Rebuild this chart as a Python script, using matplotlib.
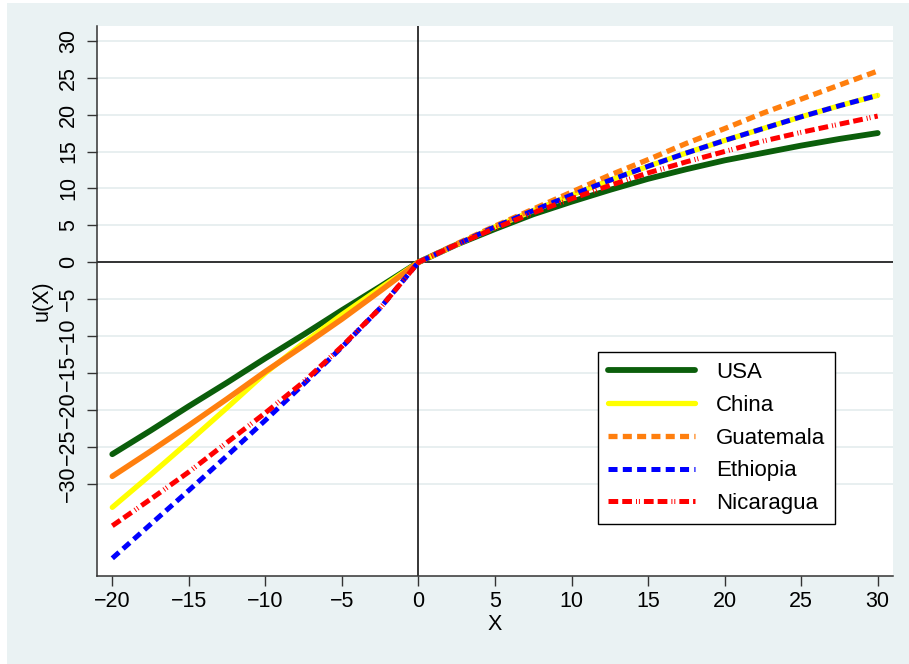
import matplotlib
matplotlib.use("Agg")
import matplotlib.pyplot as plt
from matplotlib.patches import Rectangle

plt.rcParams['font.family'] = ['Liberation Sans', 'DejaVu Sans']
plt.rcParams['lines.scale_dashes'] = False

BG = '#EAF2F3'
GRID = '#E4ECEE'

# values
X = [-20, -17.5, -15, -12.5, -10, -7.5, -5, -2.5, 0,
     2.5, 5, 7.5, 10, 12.5, 15, 17.5, 20, 22.5, 25, 27.5, 30]

USA = [-26.0, -22.8, -19.5, -16.3, -13.0, -9.8, -6.5, -3.3, 0,
       2.4, 4.5, 6.5, 8.2, 9.8, 11.3, 12.6, 13.8, 14.8, 15.8, 16.7, 17.5]
CHINA = [-33.2, -28.8, -24.3, -19.7, -15.0, -10.9, -7.1, -3.5, 0,
         2.4, 4.8, 7.0, 9.1, 11.1, 13.0, 14.8, 16.5, 18.1, 19.7, 21.2, 22.6]
GUATEMALA = [-29.0, -25.6, -22.1, -18.5, -14.8, -11.3, -7.7, -3.9, 0,
             2.5, 4.9, 7.2, 9.5, 11.8, 13.9, 16.1, 18.1, 20.2, 22.1, 24.0, 25.9]
ETHIOPIA = [-40.1, -35.5, -30.9, -26.2, -21.4, -16.5, -11.5, -6.2, 0,
            2.4, 4.8, 7.0, 9.1, 11.1, 13.0, 14.8, 16.5, 18.1, 19.7, 21.2, 22.6]
NICARAGUA = [-35.7, -32.1, -28.4, -24.4, -20.4, -16.2, -11.4, -6.2, 0,
             2.4, 4.6, 6.7, 8.6, 10.4, 12.1, 13.6, 15.0, 16.4, 17.6, 18.7, 19.8]

X_TICKS = [-20, -15, -10, -5, 0, 5, 10, 15, 20, 25, 30]
Y_TICKS = [-30, -25, -20, -15, -10, -5, 0, 5, 10, 15, 20, 25, 30]

ZERO = X.index(0)


def main():
    fig = plt.figure(figsize=(9.09, 6.64), dpi=100, facecolor='white')
    fig.patches.append(Rectangle((7 / 909, 0), 1, 661 / 664, transform=fig.transFigure,
                                 facecolor=BG, edgecolor='none', zorder=-10))
    ax = fig.add_axes([97 / 909, 1 - 576 / 664, 796 / 909, 550 / 664])
    ax.set_facecolor('white')

    ax.set_xlim(-21, 31)
    ax.set_ylim(-42.5, 32)
    ax.set_yticks(Y_TICKS)
    ax.set_xticks(X_TICKS)
    ax.grid(axis='y', color=GRID, linewidth=1.2, zorder=0)
    ax.set_axisbelow(True)

    for side in ('top', 'right'):
        ax.spines[side].set_visible(False)
    for side in ('left', 'bottom'):
        ax.spines[side].set_color('#333333')
        ax.spines[side].set_linewidth(1.1)

    ax.tick_params(axis='both', direction='out', length=7, width=1.0, color='#333333',
                   labelsize=15.5, labelcolor='black')
    ax.tick_params(axis='x', pad=4)
    ax.tick_params(axis='y', pad=6, labelrotation=90)
    for lab in ax.get_yticklabels():
        lab.set_verticalalignment('center')

    ax.axhline(0, color='black', linewidth=1.1, zorder=1)
    ax.axvline(0, color='black', linewidth=1.1, zorder=1)

    ax.plot(X, USA, color='#0B5E0B', linewidth=4.2, solid_capstyle='round', label='USA', zorder=3)
    ax.plot(X, CHINA, color='#FFFF00', linewidth=3.8, solid_capstyle='round', label='China', zorder=3)
    # Guatemala: the loss side is drawn solid, the gain side dashed
    ax.plot(X[:ZERO + 1], GUATEMALA[:ZERO + 1], color='#FF7F0E', linewidth=4.0,
            solid_capstyle='round', zorder=3)
    ax.plot(X[ZERO:], GUATEMALA[ZERO:], color='#FF7F0E', linewidth=3.8, dashes=(6.5, 3.8),
            dash_capstyle='butt', label='Guatemala', zorder=3)
    ax.plot(X, ETHIOPIA, color='#0000FF', linewidth=3.6, dashes=(6.5, 3.8),
            dash_capstyle='butt', label='Ethiopia', zorder=3)
    ax.plot(X, NICARAGUA, color='#FF0000', linewidth=3.6,
            dashes=(7.0, 2.9, 7.0, 2.9, 0.7, 1.4, 0.7, 2.9),
            dash_capstyle='butt', label='Nicaragua', zorder=3)

    ax.set_xlabel('X', fontsize=15.5)
    ax.set_ylabel('u(X)', fontsize=15.5)
    ax.xaxis.set_label_coords(0.5, -0.07)
    ax.yaxis.set_label_coords(-0.056, 0.5)

    leg = ax.legend(loc='upper left', bbox_to_anchor=(598 / 909, 1 - 352 / 664),
                    bbox_transform=fig.transFigure, borderaxespad=0, fontsize=16,
                    handlelength=3.9, handletextpad=0.95, labelspacing=0.53,
                    borderpad=0.45, fancybox=False, framealpha=1, shadow=False)
    leg.get_frame().set_edgecolor('black')
    leg.get_frame().set_linewidth(1.0)

    fig.savefig('out.png', dpi=100, facecolor=fig.get_facecolor())


main()
